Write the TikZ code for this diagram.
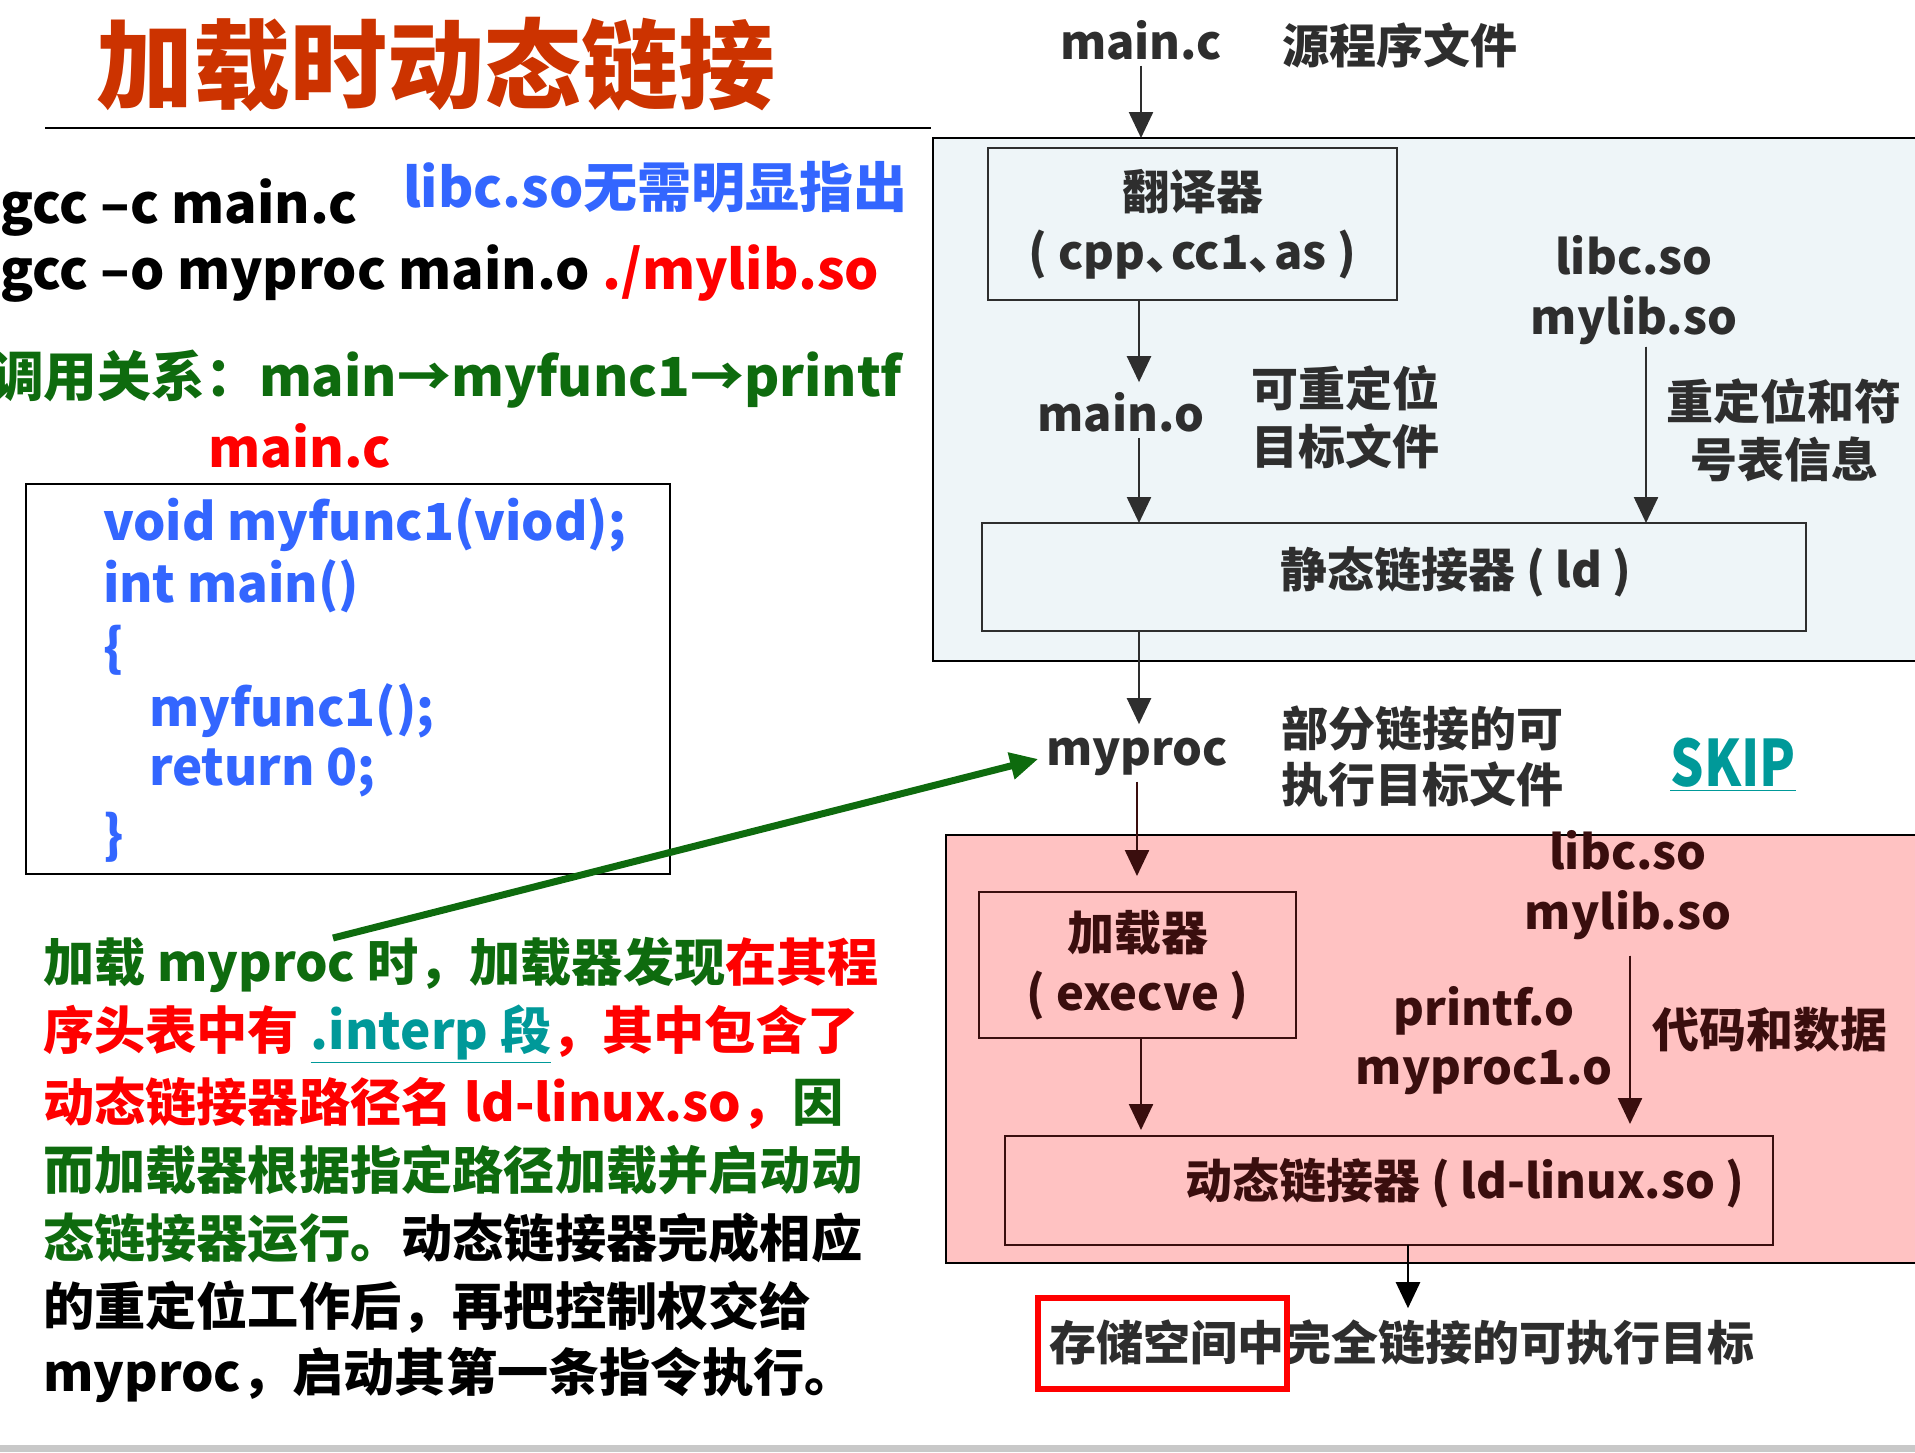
\documentclass[tikz,border=0pt]{standalone}
\usepackage{fontspec}
\setmainfont{Noto Sans CJK SC}
\usetikzlibrary{arrows.meta,calc,positioning}
\definecolor{TitleRed}{HTML}{CC3300}
\definecolor{CodeBlue}{HTML}{3366FF}
\definecolor{NoteGreen}{HTML}{0E6B0E}
\definecolor{NoteRed}{HTML}{FF0000}
\definecolor{LinkTeal}{HTML}{009999}
\definecolor{PanelBlue}{HTML}{EEF5F8}
\definecolor{PanelPink}{HTML}{FFC2C2}
\definecolor{DiagInk}{HTML}{2E2E2E}
\definecolor{LoadInk}{HTML}{3A0E0E}
\definecolor{BarGray}{HTML}{C8C8C8}
\tikzset{
  every node/.style={inner sep=0pt, outer sep=0pt},
  headline/.style={font=\fontsize{48.5}{48.5}\selectfont\bfseries, text=TitleRed},
  cmdline/.style={anchor=west, font=\fontsize{27}{27}\selectfont\bfseries, text=black},
  codeline/.style={anchor=west, font=\fontsize{25.5}{25.5}\selectfont\bfseries, text=CodeBlue},
  noteline/.style={anchor=west, font=\fontsize{25.6}{25.6}\selectfont\bfseries, text=NoteGreen},
  diag/.style={font=\fontsize{23.5}{30}\selectfont\bfseries, text=DiagInk, align=center},
  loadtext/.style={diag, text=LoadInk},
  panel/.style={draw=black, line width=1.2pt},
  stagebox/.style={draw=DiagInk, line width=1pt},
  flow/.style={-{Triangle[length=13pt,width=12pt]}, draw=DiagInk, fill=DiagInk, line width=1.2pt},
  loadflow/.style={flow, draw=LoadInk, fill=LoadInk},
  callout/.style={-{Triangle[length=14pt,width=13pt]}, draw=NoteGreen, fill=NoteGreen, line width=3.5pt},
  hilite/.style={draw=NoteRed, line width=3pt},
}
\begin{document}
\begin{tikzpicture}[x=0.5pt, y=-0.5pt]
  \useasboundingbox (0,0) rectangle (1915,1452);
  \clip (0,0) rectangle (1915,1452);
  % Title and rule
  \node[headline] (title) at (436,64) {加载时动态链接};
  \draw[line width=1pt] (45,128) -- (931,128);
  % Commands
  \node[cmdline] (gccc) at (0,208) {gcc –c main.c};
  \node[cmdline] (gcco) at (0,274) {gcc –o myproc main.o \textcolor{NoteRed}{./mylib.so}};
  \node[cmdline, text=CodeBlue] (libcnote) at (403,187) {libc.so无需明显指出};
  \node[cmdline, font=\fontsize{26.9}{26.9}\selectfont\bfseries, text=NoteGreen] (calls) at (-10,379) {调用关系：main→myfunc1→printf};
  \node[cmdline, font=\fontsize{26.5}{26.5}\selectfont\bfseries, text=NoteRed] (srcname) at (208,446) {main.c};
  % Source listing
  \node[draw=black, line width=1.2pt, minimum width=322pt, minimum height=195pt] (codebox) at (348,679) {};
  \node[codeline] (code1) at (103,525) {void myfunc1(viod);};
  \node[codeline] (code2) at (103,586) {int main()};
  \node[codeline] (code3) at (103,650) {\{};
  \node[codeline] (code4) at (149,711) {myfunc1();};
  \node[codeline] (code5) at (149,772) {return 0;};
  \node[codeline] (code6) at (103,837) {\}};
  % Explanation
  \node[noteline] (p1) at (43,965) {加载 myproc 时，加载器发现\textcolor{NoteRed}{在其程}};
  \node[noteline, text=NoteRed] (p2) at (43,1034) {序头表中有 \textcolor{LinkTeal}{\underline{.interp 段}}，其中包含了};
  \node[noteline, text=NoteRed] (p3) at (43,1103) {动态链接器路径名 ld-linux.so，\textcolor{NoteGreen}{因}};
  \node[noteline] (p4) at (43,1170) {而加载器根据指定路径加载并启动动};
  \node[noteline] (p5) at (43,1238) {态链接器运行。\textcolor{black}{动态链接器完成相应}};
  \node[noteline, text=black] (p6) at (43,1307) {的重定位工作后，再把控制权交给};
  \node[noteline, text=black] (p7) at (43,1375) {myproc，启动其第一条指令执行。};
  \coordinate (noteanchor) at (333,938);

  % Static linking stage
  \node[panel, fill=PanelBlue, minimum width=499pt, minimum height=261.5pt] (compilezone) at (1432,399.5) {};
  \node[diag] (mainc) at (1141,40) {main.c};
  \node[diag] (srcnote) at (1400,45) {源程序文件};
  \node[stagebox, diag, minimum width=204.5pt, minimum height=76pt] (trans) at (1192.5,224)
    {翻译器\\( cpp、\kern-.45em cc1、\kern-.45em as )};
  \node[diag] (maino) at (1121,412) {main.o};
  \node[diag, font=\fontsize{23.5}{29}\selectfont\bfseries] (relocnote) at (1345,417) {可重定位\\目标文件};
  \node[diag] (libsA) at (1634,290) {libc.so\\mylib.so};
  \node[diag, font=\fontsize{23.5}{29}\selectfont\bfseries] (symnote) at (1784,430) {重定位和符\\号表信息};
  \node[stagebox, minimum width=412pt, minimum height=54pt] (ldbox) at (1394,577) {};
  \node[diag] (ldtext) at (1456,572) {静态链接器 ( ld )};
  \coordinate (axis) at (1139,0);
  \draw[flow] ([yshift=-3pt]mainc.south) -- (mainc.south |- compilezone.north);
  \draw[flow] (trans.south -| axis) -- ([yshift=5pt]maino.north -| axis);
  \draw[flow] ([yshift=-3pt]maino.south -| axis) -- (ldbox.north -| axis);
  \draw[flow] ([xshift=6pt,yshift=-1pt]libsA.south) -- ([xshift=6pt]libsA.south |- ldbox.north);

  % Partially linked output
  \node[diag] (myproc) at (1137,757) {myproc};
  \node[diag, font=\fontsize{23.5}{28}\selectfont\bfseries] (partnote) at (1422,757) {部分链接的可\\执行目标文件};
  \node[font=\fontsize{32}{32}\selectfont\bfseries, text=LinkTeal] (skip) at (1733,765) {\scalebox{0.82}[1]{\underline{SKIP}}};
  \draw[flow] (ldbox.south -| axis) -- ([yshift=7pt]myproc.north -| axis);
  \draw[callout, shorten >=4pt] (noteanchor) -- (myproc.west);

  % Load-time linking stage
  \node[panel, fill=PanelPink, minimum width=490pt, minimum height=214pt] (loadzone) at (1436,1049) {};
  \node[loadtext] (libsB) at (1628,885) {libc.so\\mylib.so};
  \node[stagebox, loadtext, draw=LoadInk, minimum width=158.5pt, minimum height=73pt] (loader) at (1137.5,965) {加载器\\( execve )};
  \node[loadtext, font=\fontsize{23.5}{29.5}\selectfont\bfseries] (objs) at (1484,1041) {printf.o\\myproc1.o};
  \node[loadtext] (datanote) at (1770,1030) {代码和数据};
  \node[stagebox, draw=LoadInk, minimum width=384pt, minimum height=54.5pt] (dynbox) at (1389,1190.5) {};
  \node[loadtext] (dyntext) at (1465,1183) {动态链接器 ( ld-linux.so )};
  \draw[loadflow, shorten >=8pt] ([yshift=-3pt]myproc.south) -- (loader.north -| myproc);
  \draw[loadflow, shorten >=3pt] (loader.south -| 1141,0) -- (dynbox.north -| 1141,0);
  \draw[loadflow, shorten >=6pt] ([xshift=1pt,yshift=-8pt]libsB.south) -- ([xshift=1pt]libsB.south |- dynbox.north);

  % Final executable in memory
  \node[diag] (result) at (1402,1343) {存储空间中完全链接的可执行目标};
  \node[hilite, minimum width=124.5pt, minimum height=45.5pt] (hilitebox) at (1162.5,1343.5) {};
  \draw[flow, draw=black, fill=black] (dynbox.south -| 1408,0) -- ([yshift=6pt]result.north -| 1408,0);

  % Bottom bar
  \fill[BarGray] (0,1445) rectangle (1915,1452);
\end{tikzpicture}
\end{document}
